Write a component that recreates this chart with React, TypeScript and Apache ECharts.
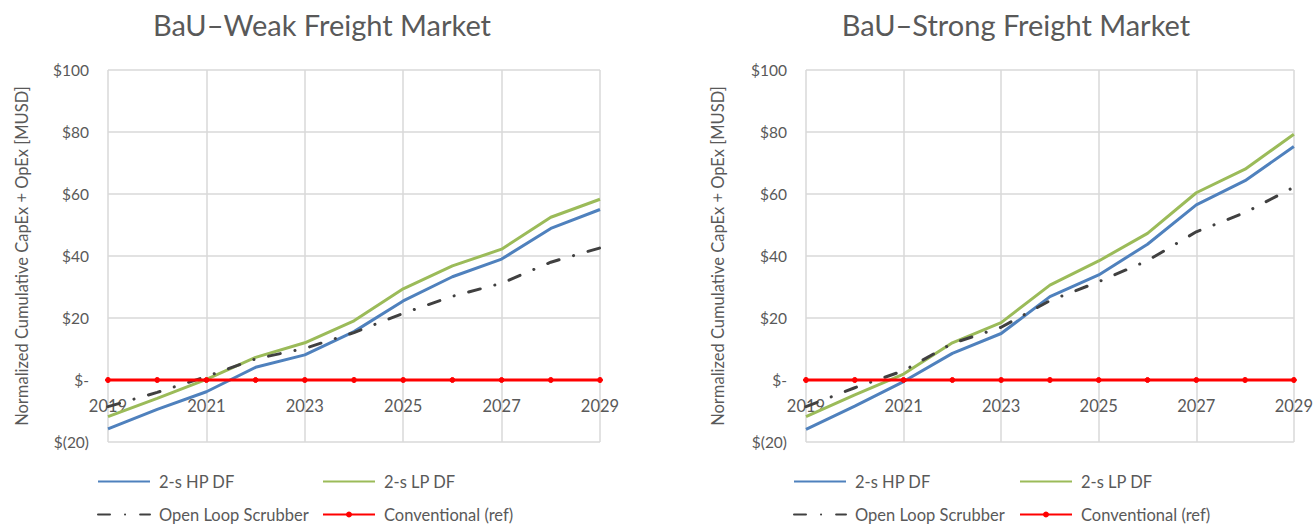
import React, { useEffect, useRef } from 'react';
import * as echarts from 'echarts';

const years = ['2019', '2020', '2021', '2022', '2023', '2024', '2025', '2026', '2027', '2028', '2029'];
const seriesNames = ['2-s HP DF', '2-s LP DF', 'Open Loop Scrubber', 'Conventional (ref)'];
const chartTitles = ['BaU\u2013Weak Freight Market', 'BaU\u2013Strong Freight Market'];
const yAxisTitle = 'Normalized Cumulative CapEx + OpEx [MUSD]';
const yTicks = [-20, 0, 20, 40, 60, 80, 100];

const weakHP = [-15.8, -9.5, -3.8, 4.1, 8.1, 15.6, 25.5, 33.3, 39.0, 48.9, 55.0];
const weakLP = [-11.8, -5.9, 0.2, 7.3, 12.0, 19.1, 29.4, 36.8, 42.2, 52.5, 58.3];
const weakOLS = [-8.6, -4.0, 1.1, 6.8, 10.2, 15.3, 21.5, 27.0, 31.2, 38.0, 42.6];

const strongHP = [-15.9, -8.4, -0.5, 8.6, 15.0, 26.9, 33.9, 43.8, 56.5, 64.3, 75.3];
const strongLP = [-11.8, -4.8, 1.9, 12.0, 18.5, 30.6, 38.4, 47.3, 60.4, 68.0, 79.3];
const strongOLS = [-8.6, -2.5, 3.0, 11.8, 17.0, 25.6, 31.7, 38.5, 47.8, 54.0, 62.2];

const conventional = [0, 0, 0, 0, 0, 0, 0, 0, 0, 0, 0];

const FONT = 'Lato, "Noto Sans", sans-serif';
const TEXT = '#595959';
const GRID = '#d9d9d9';
const colors = ['#4f81bd', '#9bbb59', '#404040', '#ff0000'];

function fmt(v: number): string {
  if (v === 0) return '$-';
  if (v < 0) return '$(' + Math.abs(v) + ')';
  return '$' + v;
}

export default function App() {
  const ref = useRef<HTMLDivElement>(null);
  useEffect(() => {
    if (!ref.current) return;
    const chart = echarts.init(ref.current, null, { renderer: 'svg' });
    const gridTop = 70;
    const gridHeight = 372;
    const yMin = yTicks[0];
    const yMax = yTicks[yTicks.length - 1];
    // distance from the bottom of the plot to the zero line, so the category axis crosses at 0
    const zeroOffset = -((0 - yMin) / (yMax - yMin)) * gridHeight;
    const grids = [
      { left: 108, top: gridTop, width: 492, height: gridHeight },
      { left: 806, top: gridTop, width: 490, height: gridHeight },
    ];
    const titleCenters = [322, 1016];
    const legendLeft = [[97, 322], [793, 1019]];
    const dataSets = [
      [weakHP, weakLP, weakOLS, conventional],
      [strongHP, strongLP, strongOLS, conventional],
    ];
    const xAxes: any[] = [];
    const yAxes: any[] = [];
    const series: any[] = [];
    const legends: any[] = [];
    const titles: any[] = [];
    [0, 1].forEach((g) => {
      titles.push({
        text: chartTitles[g],
        left: titleCenters[g],
        top: 10,
        textAlign: 'center',
        padding: 0,
        textStyle: { fontFamily: FONT, fontSize: 29, fontWeight: 'normal', color: TEXT },
      });
      xAxes.push({
        type: 'category',
        gridIndex: g,
        data: years,
        boundaryGap: false,
        position: 'bottom',
        offset: zeroOffset,
        axisLine: { show: true, onZero: false, lineStyle: { color: GRID, width: 1.5 } },
        axisTick: { show: false },
        axisLabel: { interval: 1, margin: 17, fontFamily: FONT, fontSize: 16.5, color: TEXT },
        splitLine: { show: true, interval: 1, lineStyle: { color: GRID, width: 1.5 } },
      });
      yAxes.push({
        type: 'value',
        gridIndex: g,
        min: yMin,
        max: yMax,
        interval: 20,
        name: yAxisTitle,
        nameLocation: 'middle',
        nameGap: g === 0 ? 78 : 80,
        nameTextStyle: { fontFamily: FONT, fontSize: 16.5, color: TEXT },
        axisLine: { show: false },
        axisTick: { show: false },
        axisLabel: { margin: 19, fontFamily: FONT, fontSize: 15.5, color: TEXT, formatter: fmt },
        splitLine: { show: true, lineStyle: { color: GRID, width: 1.5 } },
      });
      dataSets[g].forEach((d, i) => {
        const s: any = {
          name: seriesNames[i],
          type: 'line',
          xAxisIndex: g,
          yAxisIndex: g,
          data: d,
          color: colors[i],
          symbol: 'none',
          lineStyle: { width: 3, color: colors[i] },
          z: 2 + i,
        };
        if (i === 2) {
          s.lineStyle = { width: 3, color: colors[i], type: [12, 15, 0.1, 15], cap: 'round' };
        }
        if (i === 3) {
          s.symbol = 'circle';
          s.symbolSize = 5;
          s.showSymbol = true;
          s.itemStyle = { color: colors[i], borderColor: colors[i], borderWidth: 1 };
        }
        series.push(s);
      });
      seriesNames.forEach((name, i) => {
        const isRef = i === 3;
        legends.push({
          data: [name],
          left: legendLeft[g][i % 2],
          top: i < 2 ? 473 : 506,
          padding: 0,
          itemWidth: 52,
          itemHeight: isRef ? 5 : 14,
          itemStyle: isRef ? { opacity: 1 } : { opacity: 0 },
          textStyle: { fontFamily: FONT, fontSize: 16.5, color: TEXT, padding: [0, 0, 0, 4] },
          selectedMode: false,
        });
      });
    });
    chart.setOption({
      animation: false,
      backgroundColor: '#ffffff',
      title: titles,
      grid: grids,
      xAxis: xAxes,
      yAxis: yAxes,
      legend: legends,
      series,
    });
    return () => chart.dispose();
  }, []);
  return <div ref={ref} style={{ position: 'fixed', left: 0, top: 0, width: 1316, height: 525 }} />;
}
